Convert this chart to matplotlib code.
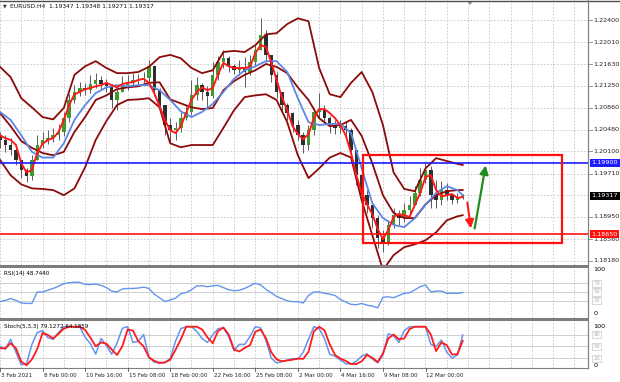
import matplotlib
matplotlib.use("Agg")
import matplotlib.pyplot as plt
from matplotlib.patches import Rectangle, Polygon
import numpy as np

W, H = 620, 382
BAR_PX = 42.55 / 16   # width of one H4 bar on screen, px

# ---------------- data ----------------
# one candle every 2 H4 bars
first_open = 1.2038
closes = [1.2030, 1.2021, 1.2012, 1.1995, 1.1977, 1.1966, 1.1995, 1.2021, 1.2030, 1.2033,
          1.2038, 1.2044, 1.2068, 1.2100, 1.2114, 1.2121, 1.2117, 1.2128, 1.2135, 1.2128,
          1.2124, 1.2100, 1.2114, 1.2126, 1.2131, 1.2135, 1.2137, 1.2138, 1.2159, 1.2117,
          1.2091, 1.2056, 1.2047, 1.2051, 1.2068, 1.2079, 1.2108, 1.2126, 1.2114, 1.2107,
          1.2144, 1.2166, 1.2173, 1.2159, 1.2152, 1.2156, 1.2149, 1.2166, 1.2187, 1.2214,
          1.2179, 1.2144, 1.2114, 1.2091, 1.2077, 1.2056, 1.2038, 1.2021, 1.2047, 1.2079,
          1.2082, 1.2068, 1.2056, 1.2051, 1.2054, 1.2047, 1.2012, 1.1968, 1.1933, 1.1916,
          1.1893, 1.1858, 1.1851, 1.1881, 1.1898, 1.1893, 1.1907, 1.1916, 1.1937, 1.1959,
          1.1977, 1.1933, 1.1924, 1.1942, 1.1933, 1.1924, 1.1928, 1.19317]
highs = [1.2044, 1.2038, 1.2033, 1.2016, 1.1995, 1.1980, 1.2003, 1.2038, 1.2044, 1.2047,
         1.2051, 1.2058, 1.2079, 1.2110, 1.2126, 1.2131, 1.2130, 1.2144, 1.2147, 1.2142,
         1.2137, 1.2128, 1.2121, 1.2142, 1.2144, 1.2147, 1.2145, 1.2149, 1.2170, 1.2156,
         1.2121, 1.2091, 1.2068, 1.2061, 1.2079, 1.2089, 1.2135, 1.2140, 1.2130, 1.2124,
         1.2166, 1.2177, 1.2187, 1.2177, 1.2163, 1.2170, 1.2175, 1.2179, 1.2196, 1.2243,
         1.2222, 1.2179, 1.2149, 1.2114, 1.2094, 1.2079, 1.2065, 1.2044, 1.2056, 1.2086,
         1.2112, 1.2091, 1.2072, 1.2065, 1.2065, 1.2061, 1.2051, 1.2012, 1.1973, 1.1942,
         1.1916, 1.1898, 1.1872, 1.1889, 1.1910, 1.1907, 1.1919, 1.1931, 1.1949, 1.1980,
         1.1989, 1.1984, 1.1959, 1.1958, 1.1954, 1.1935, 1.1937, 1.19348]
lows = [1.2016, 1.2009, 1.2003, 1.1986, 1.1963, 1.1956, 1.1959, 1.1995, 1.2016, 1.2023,
        1.2026, 1.2030, 1.2037, 1.2061, 1.2094, 1.2107, 1.2108, 1.2112, 1.2121, 1.2119,
        1.2114, 1.2086, 1.2082, 1.2114, 1.2117, 1.2124, 1.2126, 1.2128, 1.2124, 1.2107,
        1.2082, 1.2038, 1.2024, 1.2030, 1.2044, 1.2065, 1.2073, 1.2100, 1.2100, 1.2087,
        1.2103, 1.2135, 1.2156, 1.2149, 1.2145, 1.2144, 1.2122, 1.2144, 1.2161, 1.2187,
        1.2166, 1.2131, 1.2103, 1.2079, 1.2065, 1.2044, 1.2030, 1.2007, 1.2012, 1.2038,
        1.2068, 1.2059, 1.2042, 1.2040, 1.2042, 1.2037, 1.1989, 1.1951, 1.1910, 1.1902,
        1.1875, 1.1840, 1.1833, 1.1846, 1.1875, 1.1881, 1.1886, 1.1900, 1.1916, 1.1931,
        1.1954, 1.1910, 1.1910, 1.1916, 1.1924, 1.1917, 1.1919, 1.19271]

# fast red MA, every 2 bars
ma_red = [1.2038, 1.2033, 1.2030, 1.2021, 1.1989, 1.1973, 1.1977, 1.2007, 1.2023, 1.2030,
          1.2033, 1.2044, 1.2065, 1.2091, 1.2110, 1.2114, 1.2119, 1.2121, 1.2124, 1.2126,
          1.2130, 1.2126, 1.2122, 1.2128, 1.2130, 1.2131, 1.2135, 1.2137, 1.2130, 1.2112,
          1.2089, 1.2065, 1.2047, 1.2042, 1.2054, 1.2077, 1.2100, 1.2114, 1.2122, 1.2117,
          1.2121, 1.2145, 1.2165, 1.2159, 1.2156, 1.2156, 1.2156, 1.2158, 1.2182, 1.2196,
          1.2193, 1.2166, 1.2135, 1.2105, 1.2082, 1.2054, 1.2040, 1.2031, 1.2040, 1.2068,
          1.2084, 1.2084, 1.2077, 1.2068, 1.2056, 1.2038, 1.2007, 1.1968, 1.1937, 1.1917,
          1.1900, 1.1874, 1.1856, 1.1872, 1.1895, 1.1900, 1.1898, 1.1895, 1.1916, 1.1937,
          1.1965, 1.1968, 1.1942, 1.1931, 1.1933, 1.1935, 1.1928, 1.1930]

# slow lines, every 4 bars plus the last bar
band_upper = [1.2158, 1.2140, 1.2103, 1.2087, 1.2070, 1.2066, 1.2086, 1.2144, 1.2159, 1.2168,
              1.2156, 1.2147, 1.2147, 1.2149, 1.2158, 1.2175, 1.2179, 1.2173, 1.2156, 1.2147,
              1.2152, 1.2184, 1.2186, 1.2184, 1.2196, 1.2215, 1.2217, 1.2233, 1.2243, 1.2238,
              1.2156, 1.2110, 1.2105, 1.2130, 1.2149, 1.2114, 1.2056, 1.1973, 1.1944, 1.1940,
              1.1980, 1.1998, 1.1993, 1.1988, 1.1986]
band_mid = [1.2077, 1.2054, 1.2028, 1.2016, 1.2007, 1.2003, 1.2009, 1.2044, 1.2070, 1.2100,
            1.2108, 1.2119, 1.2122, 1.2124, 1.2130, 1.2131, 1.2101, 1.2094, 1.2087, 1.2084,
            1.2086, 1.2117, 1.2133, 1.2144, 1.2152, 1.2163, 1.2158, 1.2147, 1.2122, 1.2100,
            1.2068, 1.2054, 1.2056, 1.2065, 1.2037, 1.1989, 1.1933, 1.1902, 1.1893, 1.1893,
            1.1917, 1.1933, 1.1940, 1.1942, 1.1942]
band_lower = [1.1995, 1.1968, 1.1952, 1.1945, 1.1944, 1.1942, 1.1933, 1.1945, 1.1982, 1.2030,
              1.2063, 1.2091, 1.2100, 1.2101, 1.2103, 1.2087, 1.2024, 1.2017, 1.2021, 1.2021,
              1.2021, 1.2051, 1.2082, 1.2105, 1.2108, 1.2110, 1.2100, 1.2061, 1.2003, 1.1963,
              1.1980, 1.1999, 1.2007, 1.1999, 1.1924, 1.1863, 1.1802, 1.1828, 1.1842, 1.1847,
              1.1854, 1.1868, 1.1889, 1.1896, 1.1898]
ma_blue = [1.2079, 1.2065, 1.2038, 1.2009, 1.1999, 1.1999, 1.2024, 1.2065, 1.2091, 1.2112,
           1.2122, 1.2126, 1.2124, 1.2126, 1.2126, 1.2117, 1.2100, 1.2080, 1.2070, 1.2079,
           1.2093, 1.2114, 1.2137, 1.2152, 1.2159, 1.2168, 1.2168, 1.2149, 1.2103, 1.2061,
           1.2056, 1.2058, 1.2058, 1.2042, 1.1980, 1.1919, 1.1893, 1.1881, 1.1877, 1.1893,
           1.1916, 1.1937, 1.1949, 1.1942, 1.1933]

rsi = [28, 31, 35, 31, 25, 24, 24, 50, 50, 54, 58, 63, 69, 71, 72, 72, 67, 67, 68, 65,
       60, 52, 50, 57, 58, 58, 59, 61, 58, 45, 37, 28, 32, 36, 46, 49, 55, 64, 64, 62,
       64, 65, 60, 55, 53, 54, 58, 64, 70, 66, 56, 48, 40, 35, 30, 28, 28, 25, 42, 50,
       50, 47, 45, 42, 33, 27, 22, 21, 24, 20, 18, 14, 38, 39, 37, 42, 47, 48, 55, 62,
       66, 50, 52, 52, 47, 47, 47, 48.744]
stoch_k = [49, 43, 68, 35, 3, 6, 55, 85, 90, 72, 68, 85, 100, 100, 100, 100, 73, 57, 30, 70,
           52, 30, 58, 96, 100, 60, 63, 80, 22, 10, 7, 9, 19, 63, 95, 100, 100, 88, 70, 60,
           79, 95, 97, 75, 40, 55, 55, 75, 100, 97, 65, 20, 8, 11, 15, 19, 17, 35, 68, 100,
           95, 70, 30, 25, 15, 6, 5, 12, 25, 31, 18, 8, 28, 82, 77, 60, 90, 100, 100, 100,
           100, 55, 50, 66, 35, 20, 28, 79]
stoch_d = [45, 45, 58, 45, 11, 2, 17, 43, 84, 79, 70, 82, 95, 100, 100, 100, 92, 72, 50, 60,
           57, 42, 28, 50, 93, 90, 63, 50, 22, 13, 8, 9, 16, 41, 68, 100, 100, 100, 93, 73,
           58, 89, 98, 80, 42, 37, 46, 53, 87, 93, 71, 35, 17, 12, 14, 16, 19, 18, 36, 88,
           100, 91, 55, 28, 19, 13, 5, 5, 12, 28, 21, 10, 32, 70, 80, 68, 70, 94, 100, 100,
           100, 80, 38, 60, 53, 29, 30, 64]

price_ticks = [1.22400, 1.22010, 1.21630, 1.21250, 1.20860, 1.20480, 1.20100, 1.19710,
               1.18950, 1.18560, 1.18180]
grid_prices = price_ticks + [1.19330]
time_labels = ["3 Feb 2021", "8 Feb 00:00", "10 Feb 16:00", "15 Feb 08:00", "18 Feb 00:00",
               "22 Feb 16:00", "25 Feb 08:00", "2 Mar 00:00", "4 Mar 16:00", "9 Mar 08:00",
               "12 Mar 00:00"]

resistance = 1.19900
support = 1.18650
last_price = 1.19317
zone_bars = (136.5, 211.4)
zone_prices = (1.18492, 1.20035)
arrow_down = ((175.6, 1.1925), (177.2, 1.1870))
arrow_up = ((178.3, 1.1870), (182.8, 1.1990))

# ---------------- layout helpers ----------------
fig = plt.figure(figsize=(W / 100, H / 100), dpi=100)
fig.patch.set_facecolor("white")


def px_axes(x0, y0, x1, y1):
    return fig.add_axes([x0 / W, 1 - y1 / H, (x1 - x0) / W, (y1 - y0) / H])


def fx(x):
    return x / W


def fy(y):
    return 1 - y / H


RIGHT = 588
XMAX = RIGHT / BAR_PX
FS = 4.6
FS_T = 4.1
GRID = dict(color="#c4c4c4", lw=0.6, ls=(0, (2, 2)))
vgrid = np.arange(0, XMAX, 8)

ax = px_axes(0, 0, RIGHT, 265)
rsi_ax = px_axes(0, 268, RIGHT, 318)
st_ax = px_axes(0, 321, RIGHT, 368)

for a in (ax, rsi_ax, st_ax):
    a.set_xlim(0, XMAX)
    a.set_xticks([])
    a.set_yticks([])
    for s in a.spines.values():
        s.set_visible(False)
    a.spines["right"].set_visible(True)
    a.spines["right"].set_color("#808080")
    for v in vgrid:
        a.axvline(v, zorder=0, **GRID)

# ---------------- main price panel ----------------
ax.set_ylim(1.18107, 1.22752)
for p in grid_prices:
    ax.axhline(p, zorder=0, **GRID)

cbars = np.arange(len(closes)) * 2
opens = [first_open] + closes[:-1]
c = np.array(closes)
o = np.array(opens)
bull = c >= o
body_lo = np.minimum(o, c)
body_h = np.maximum(np.abs(c - o), 0.00008)
ax.vlines(cbars, lows, highs, color="#5a5a5a", lw=0.7, zorder=2)
ax.bar(cbars, body_h, bottom=body_lo, width=1.3,
       color=np.where(bull, "#3d9a2c", "#2e2e2e"), lw=0, zorder=3)

line_bars = list(range(0, 173, 4)) + [174]
for series in (band_upper, band_mid, band_lower):
    ax.plot(line_bars, series, color="#8b0a0a", lw=1.3, zorder=4)
ax.plot(line_bars, ma_blue, color="#5b87e6", lw=1.3, zorder=5)
ax.plot(cbars, ma_red, color="#ff1a1a", lw=1.4, zorder=6)

ax.axhline(resistance, color="#1c1cff", lw=1.2, zorder=7)
ax.axhline(support, color="#ff1010", lw=1.2, zorder=7)
ax.add_patch(Rectangle((zone_bars[0], zone_prices[0]), zone_bars[1] - zone_bars[0],
                       zone_prices[1] - zone_prices[0], fill=False, ec="#ff1010", lw=1.6, zorder=8))
ax.annotate("", xy=arrow_down[1], xytext=arrow_down[0],
            arrowprops=dict(arrowstyle="-|>,head_length=0.5,head_width=0.25", color="#ff1a1a", lw=1.5))
ax.annotate("", xy=arrow_up[1], xytext=arrow_up[0],
            arrowprops=dict(arrowstyle="-|>,head_length=0.5,head_width=0.25", color="#1e8c1e", lw=1.6))

ytr = ax.get_yaxis_transform()
for p in price_ticks:
    ax.plot([1.0, 1.006], [p, p], transform=ytr, color="#808080", lw=0.6, clip_on=False)
    ax.text(1.009, p, f"{p:.5f}", transform=ytr, fontsize=FS, va="center", ha="left", color="#222222")
for p, bg in ((resistance, "#1c1cff"), (last_price, "#000000"), (support, "#ff1010")):
    ax.text(1.006, p, f"{p:.5f}", transform=ytr, fontsize=FS, va="center", ha="left", color="white",
            bbox=dict(boxstyle="square,pad=0.25", fc=bg, ec="none"), zorder=10)

# top border, chart-shift marker and symbol line
fig.add_artist(plt.Line2D([0, 1], [fy(0.6), fy(0.6)], color="#505050", lw=1.0))
fig.patches.append(Polygon([[fx(467), fy(1)], [fx(473), fy(1)], [fx(470), fy(5)]],
                           closed=True, transform=fig.transFigure, fc="#909090", ec="none"))
fig.text(fx(3), fy(6), "\u25bc", fontsize=3.5, va="center", ha="left", color="#333333")
fig.text(fx(10), fy(6), "EURUSD.H4  1.19347 1.19348 1.19271 1.19317", fontsize=4.3,
         va="center", ha="left", color="#111111")

# ---------------- RSI ----------------
rsi_ax.set_ylim(-9.1, 104.5)
for lv in (70, 50, 30):
    rsi_ax.axhline(lv, color="#c8c8c8", lw=0.6, zorder=0)
rsi_ax.plot(cbars, rsi, color="#6495ed", lw=1.0)
rsi_ax.text(0.006, 0.93, "RSI(14) 48.7440", transform=rsi_ax.transAxes, fontsize=FS_T, va="top")
rtr = rsi_ax.get_yaxis_transform()
for lv, lab in ((100, "100"), (0, "0")):
    rsi_ax.text(1.009, lv, lab, transform=rtr, fontsize=FS, va="center")
for lv in (70, 50, 30):
    rsi_ax.text(1.009, lv, f"{lv}", transform=rtr, fontsize=FS - 0.8, va="center", color="#b0b0b0",
                bbox=dict(boxstyle="square,pad=0.2", fc="white", ec="#c8c8c8", lw=0.5))

# ---------------- Stochastic ----------------
st_ax.set_ylim(-5.1, 114.5)
for lv in (80, 50, 20):
    st_ax.axhline(lv, color="#c8c8c8", lw=0.6, zorder=0)
st_ax.plot(cbars, stoch_k, color="#6495ed", lw=1.1)
st_ax.plot(cbars, stoch_d, color="#ff1a1a", lw=1.3)
st_ax.text(0.006, 0.93, "Stoch(5,3,3) 79.1272 64.1859", transform=st_ax.transAxes, fontsize=FS_T, va="top")
str_ = st_ax.get_yaxis_transform()
for lv, lab in ((100, "100"), (0, "0")):
    st_ax.text(1.009, lv, lab, transform=str_, fontsize=FS, va="center")
for lv in (80, 50, 20):
    st_ax.text(1.009, lv, f"{lv}", transform=str_, fontsize=FS - 0.8, va="center", color="#b0b0b0",
               bbox=dict(boxstyle="square,pad=0.2", fc="white", ec="#c8c8c8", lw=0.5))

# ---------------- separators and time axis ----------------
for y0, y1 in ((265, 268), (318, 321)):
    fig.patches.append(Rectangle((0, fy(y1)), fx(RIGHT), (y1 - y0) / H,
                                 transform=fig.transFigure, fc="#7d7d7d", ec="none"))
fig.add_artist(plt.Line2D([0, fx(RIGHT)], [fy(368), fy(368)], color="#808080", lw=0.8))
fig.add_artist(plt.Line2D([fx(RIGHT), fx(RIGHT)], [fy(0), fy(368)], color="#808080", lw=0.8))

for k, lab in enumerate(time_labels):
    xp = k * 16 * BAR_PX
    fig.add_artist(plt.Line2D([fx(xp), fx(xp)], [fy(368), fy(371)], color="#555555", lw=0.6))
    fig.text(fx(xp + 1), fy(375.5), lab, fontsize=FS_T, va="center", ha="left", color="#222222")

fig.savefig("out.png", dpi=100)
